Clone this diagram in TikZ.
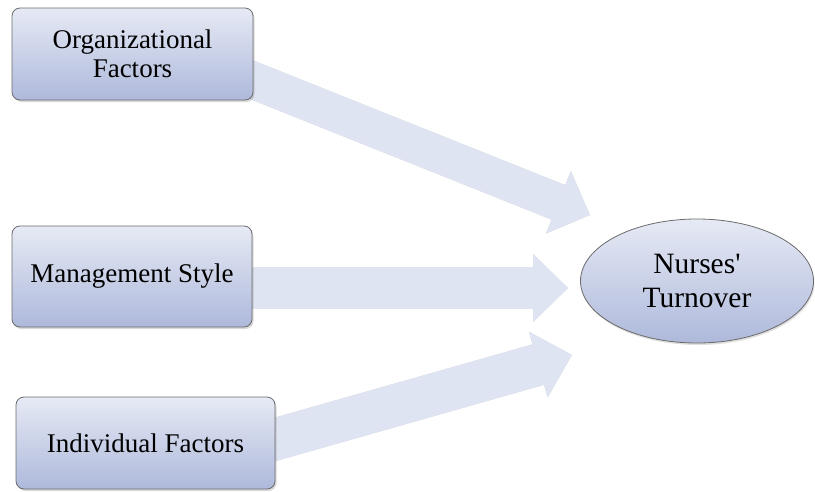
\documentclass[tikz,border=0pt]{standalone}
\usepackage{fontspec}
\setmainfont{Liberation Serif}
\usetikzlibrary{shapes.geometric, arrows.meta, calc, shadows, backgrounds}

\definecolor{boxtop}{HTML}{E6EAF5}
\definecolor{boxbottom}{HTML}{AEB9DB}
\definecolor{boxline}{HTML}{6B6B6B}
\definecolor{flowfill}{HTML}{DFE4F2}
\definecolor{flowshade}{HTML}{C9CBD0}

\begin{document}
\begin{tikzpicture}[
    x=1pt, y=-1pt,
    factor/.style={rectangle, draw=boxline, line width=0.8pt, rounded corners=8pt, top color=boxtop, bottom color=boxbottom, align=center, inner sep=0pt, font=\fontsize{27}{29.5}\selectfont, drop shadow={opacity=0.3, shadow xshift=1.5pt, shadow yshift=-2pt}},
    outcome/.style={ellipse, draw=boxline, line width=0.8pt, top color=boxtop, bottom color=boxbottom, align=center, inner sep=0pt, minimum width=233pt, minimum height=124pt, font=\fontsize{29.5}{34}\selectfont, drop shadow={opacity=0.25, shadow xshift=1pt, shadow yshift=-2pt}},
    flow/.style={draw=flowfill, line width=#1},
    flowshadow/.style={draw=flowshade, line width=#1, shift={(2,3)}}
]
    \useasboundingbox (0,0) rectangle (815,491);

    % ========== Factors ==========
    \node (org) [factor, minimum width=241pt, minimum height=92pt] at (132.5, 54) {Organizational\\Factors};
    \node (mgmt) [factor, minimum width=240pt, minimum height=101pt] at (132, 276.5) {Management Style};
    \node (indiv) [factor, minimum width=259pt, minimum height=92pt] at (145.5, 443) {Individual Factors};

    % ========== Outcome ==========
    \node (turnover) [outcome] at (697, 281) {Nurses\textquotesingle\\Turnover};

    % Arrow tips
    \coordinate (tipA) at (590, 215);
    \coordinate (tipB) at (568, 288);
    \coordinate (tipC) at (572, 355);

    % ========== Block arrows (behind the boxes) ==========
    \begin{scope}[on background layer]
        % Shadows
        \draw [flowshadow=37pt, -{Triangle[length=34pt, width=65pt]}] ($(org.south east)+(-20,-28)$) -- (tipA);
        \draw [flowshadow=42pt, -{Triangle[length=35pt, width=66pt]}] ($(mgmt.east)+(-20,11.5)$) -- (tipB);
        \draw [flowshadow=42pt, -{Triangle[length=35pt, width=66pt]}] ($(indiv.east)+(-20,2)$) -- (tipC);

        % Arrows
        \draw [flow=37pt, -{Triangle[length=34pt, width=65pt]}] ($(org.south east)+(-20,-28)$) -- (tipA);
        \draw [flow=42pt, -{Triangle[length=35pt, width=66pt]}] ($(mgmt.east)+(-20,11.5)$) -- (tipB);
        \draw [flow=42pt, -{Triangle[length=35pt, width=66pt]}] ($(indiv.east)+(-20,2)$) -- (tipC);
    \end{scope}
\end{tikzpicture}
\end{document}
